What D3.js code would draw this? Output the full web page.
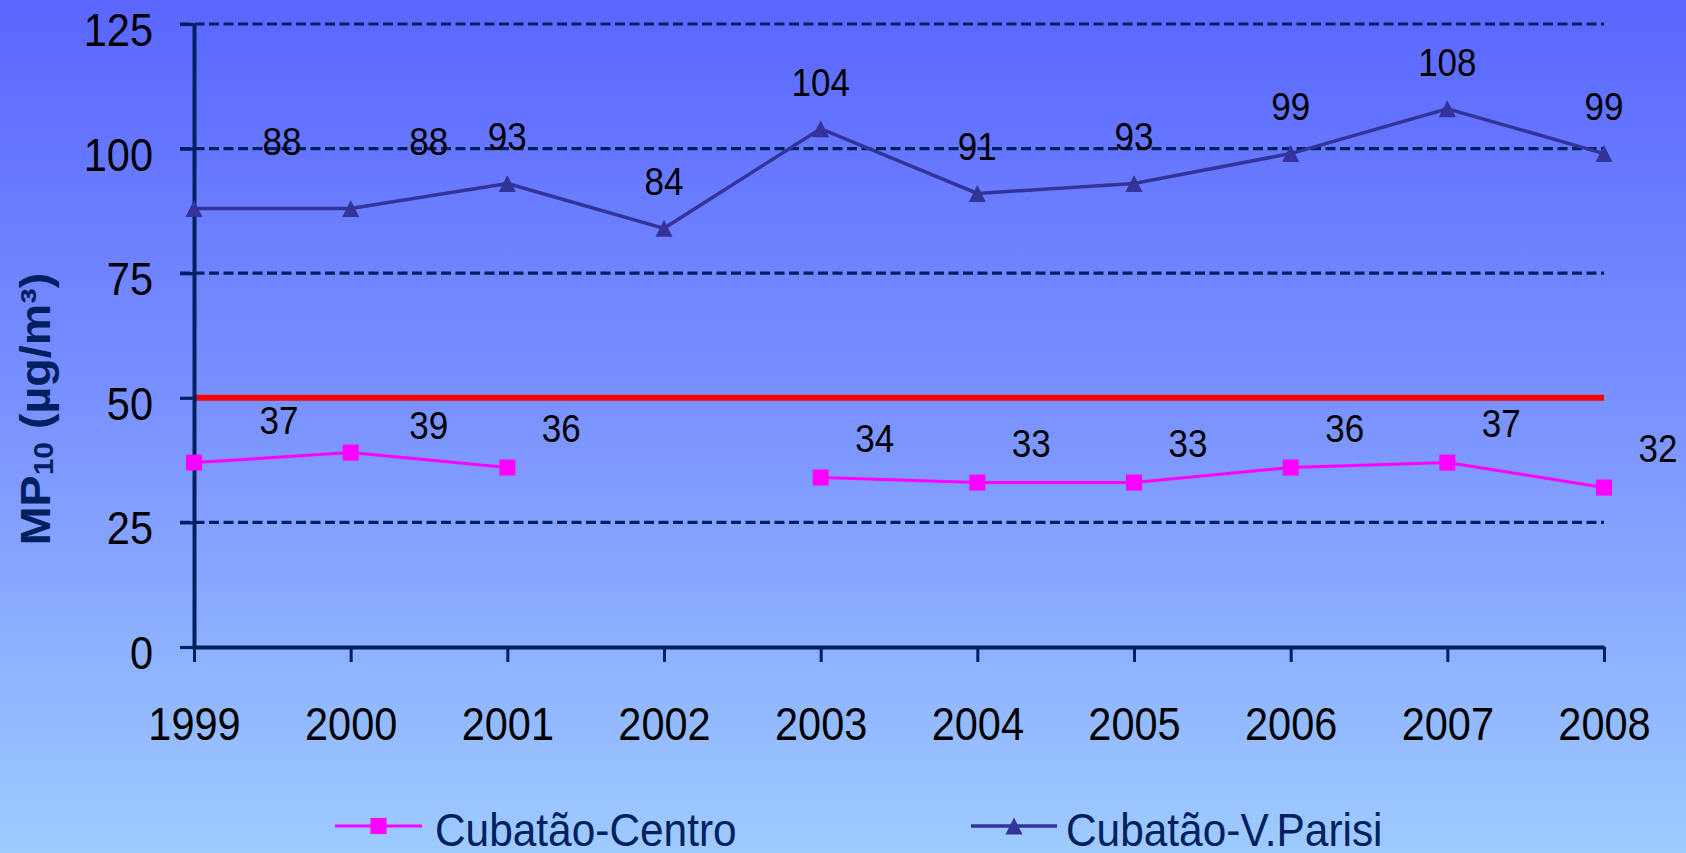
<!DOCTYPE html>
<html>
<head>
<meta charset="utf-8">
<script src="https://cdn.jsdelivr.net/npm/d3@7"></script>
<style>
  html, body { margin: 0; padding: 0; overflow: hidden; }
  svg { display: block; }
</style>
</head>
<body>
<div id="chart"></div>
<script>
// data
var years = [1999, 2000, 2001, 2002, 2003, 2004, 2005, 2006, 2007, 2008];
var centro = [37, 39, 36, null, 34, 33, 33, 36, 37, 32];
var parisi = [88, 88, 93, 84, 104, 91, 93, 99, 108, 99];
var limitValue = 50;
var yTicks = [0, 25, 50, 75, 100, 125];
var gridValues = [25, 75, 100, 125];
var seriesNames = ['Cubatão-Centro', 'Cubatão-V.Parisi'];

// layout
var WIDTH = 1686, HEIGHT = 853;
var PLOT = { left: 194, right: 1604, top: 24, bottom: 647 };
var FONT = '"Liberation Sans", Arial, Helvetica, sans-serif';
var NAVY = '#002060';
var STRETCH = 1.11;   // the original text is drawn a bit tall
// label offsets (dx, dy of label centre from the marker), first two were moved by hand in the original
var parisiShift = { 1999: [88, -67], 2000: [78, -67] };
var parisiDefault = [0, -47];
var centroShift = { 1999: [85, -42], 2000: [78, -28] };
var centroDefault = [54, -39];

var svg = d3.select('#chart').append('svg')
    .attr('width', WIDTH).attr('height', HEIGHT)
    .style('font-family', FONT);

// background gradient
var grad = svg.append('defs').append('linearGradient')
    .attr('id', 'bg').attr('x1', 0).attr('x2', 0).attr('y1', 0).attr('y2', 1);
grad.append('stop').attr('offset', '0%').attr('stop-color', '#5a66ff');
grad.append('stop').attr('offset', '50%').attr('stop-color', '#7b94ff');
grad.append('stop').attr('offset', '100%').attr('stop-color', '#9ecbff');
svg.append('rect').attr('width', WIDTH).attr('height', HEIGHT).attr('fill', 'url(#bg)');

var x = d3.scalePoint().domain(years).range([PLOT.left, PLOT.right]).padding(0);
var y = d3.scaleLinear().domain([0, 125]).range([PLOT.bottom, PLOT.top]);

// dashed gridlines
svg.append('g').selectAll('line').data(gridValues).join('line')
    .attr('x1', PLOT.left - 14).attr('x2', PLOT.right)
    .attr('y1', function (d) { return y(d); }).attr('y2', function (d) { return y(d); })
    .attr('stroke', NAVY).attr('stroke-width', 3.2).attr('stroke-dasharray', '10,4.5');

// limit line
svg.append('line')
    .attr('x1', PLOT.left).attr('x2', PLOT.right)
    .attr('y1', y(limitValue)).attr('y2', y(limitValue))
    .attr('stroke', '#ff0000').attr('stroke-width', 6);

// y axis
var yAxis = svg.append('g').attr('transform', 'translate(' + PLOT.left + ',0)')
    .call(d3.axisLeft(y).tickValues(yTicks).tickSize(14).tickSizeOuter(0));
yAxis.select('.domain').attr('stroke', NAVY).attr('stroke-width', 4);
yAxis.selectAll('.tick line').attr('stroke', NAVY).attr('stroke-width', 3.2);
yAxis.selectAll('.tick text')
    .attr('x', null).attr('dy', null)
    .attr('transform', 'translate(-41,21.5) scale(1,' + STRETCH + ')')
    .attr('fill', '#000').style('font-size', '41.5px').style('font-family', FONT)
    .attr('text-anchor', 'end');

// x axis
var xAxis = svg.append('g').attr('transform', 'translate(0,' + PLOT.bottom + ')')
    .call(d3.axisBottom(x).tickSize(15).tickSizeOuter(0));
xAxis.select('.domain').attr('stroke', NAVY).attr('stroke-width', 4);
xAxis.selectAll('.tick line').attr('stroke', NAVY).attr('stroke-width', 3);
xAxis.selectAll('.tick text')
    .attr('y', null).attr('dy', null)
    .attr('transform', 'translate(0,93) scale(1,' + STRETCH + ')')
    .attr('fill', '#000').style('font-size', '41.5px').style('font-family', FONT)
    .attr('text-anchor', 'middle');

// y title
var title = svg.append('text')
    .attr('transform', 'translate(50,409) rotate(-90) scale(' + STRETCH + ',1)')
    .attr('text-anchor', 'middle')
    .attr('fill', NAVY).style('font-size', '42px').style('font-weight', 'bold');
title.append('tspan').text('MP');
title.append('tspan').text('10').style('font-size', '27px').attr('dy', 3);
title.append('tspan').text(' (µg/m³)').attr('dy', -3);

function triangle(cx, cy, w, h) {
    return 'M' + cx + ',' + (cy - h / 2) + 'L' + (cx + w / 2) + ',' + (cy + h / 2) +
        'L' + (cx - w / 2) + ',' + (cy + h / 2) + 'Z';
}

var pointsParisi = years.map(function (yr, i) { return { year: yr, v: parisi[i] }; });
var pointsCentro = years.map(function (yr, i) { return { year: yr, v: centro[i] }; });

var line = d3.line()
    .defined(function (d) { return d.v != null; })
    .x(function (d) { return x(d.year); })
    .y(function (d) { return y(d.v); });

// V.Parisi series
svg.append('path').datum(pointsParisi).attr('d', line)
    .attr('fill', 'none').attr('stroke', '#333399').attr('stroke-width', 3.5);
svg.append('g').selectAll('path').data(pointsParisi).join('path')
    .attr('d', function (d) { return triangle(x(d.year), y(d.v), 17, 17); })
    .attr('fill', '#333399');

// Centro series
var centroDefined = pointsCentro.filter(function (d) { return d.v != null; });
svg.append('path').datum(pointsCentro).attr('d', line)
    .attr('fill', 'none').attr('stroke', '#ff00ff').attr('stroke-width', 3);
svg.append('g').selectAll('rect').data(centroDefined).join('rect')
    .attr('x', function (d) { return x(d.year) - 8; })
    .attr('y', function (d) { return y(d.v) - 8; })
    .attr('width', 16).attr('height', 16)
    .attr('fill', '#ff00ff');

// data labels
function addLabels(points, shifts, def) {
    svg.append('g').selectAll('text').data(points).join('text')
        .attr('transform', function (d) {
            var s = shifts[d.year] || def;
            var cx = x(d.year) + s[0];
            var cy = y(d.v) + s[1] + 13.9;
            return 'translate(' + cx + ',' + cy + ') scale(1,' + STRETCH + ')';
        })
        .attr('text-anchor', 'middle')
        .attr('fill', '#000').style('font-size', '35px')
        .text(function (d) { return d3.format('d')(d.v); });
}
addLabels(pointsParisi, parisiShift, parisiDefault);
addLabels(centroDefined, centroShift, centroDefault);

// legend
var legY = 826;
var leg = svg.append('g');
leg.append('line').attr('x1', 335).attr('x2', 422).attr('y1', legY).attr('y2', legY)
    .attr('stroke', '#ff00ff').attr('stroke-width', 3);
leg.append('rect').attr('x', 378.5 - 8).attr('y', legY - 8).attr('width', 16).attr('height', 16)
    .attr('fill', '#ff00ff');
leg.append('text').attr('transform', 'translate(435,846) scale(1,' + STRETCH + ')')
    .attr('fill', NAVY).style('font-size', '42.4px').text(seriesNames[0]);

leg.append('line').attr('x1', 971).attr('x2', 1057).attr('y1', legY).attr('y2', legY)
    .attr('stroke', '#333399').attr('stroke-width', 3.5);
leg.append('path').attr('d', triangle(1014, legY, 17, 17)).attr('fill', '#333399');
leg.append('text').attr('transform', 'translate(1066,846) scale(1,' + STRETCH + ')')
    .attr('fill', NAVY).style('font-size', '42.4px').text(seriesNames[1]);
</script>
</body>
</html>
